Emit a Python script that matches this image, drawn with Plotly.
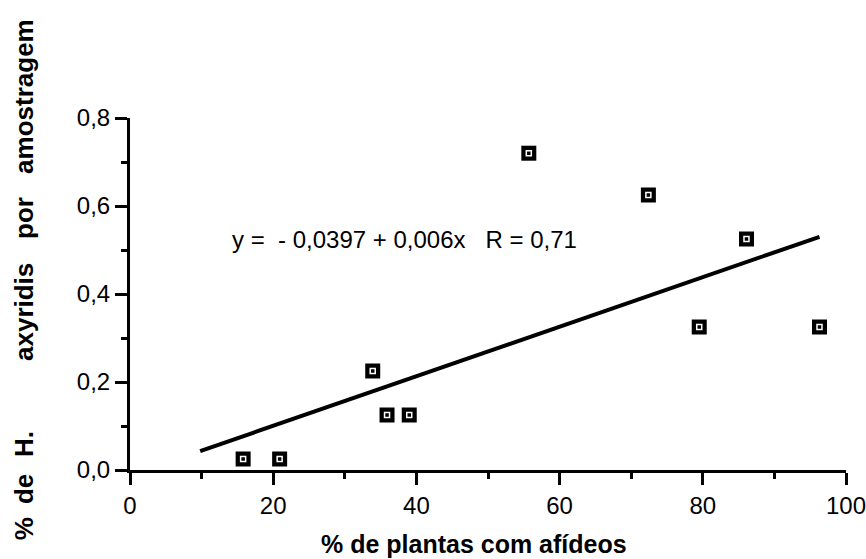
import plotly.graph_objects as go

# Data
x_pts = [15.8, 20.9, 33.9, 35.9, 39.0, 55.7, 72.4, 79.5, 86.1, 96.3]
y_pts = [0.025, 0.025, 0.225, 0.125, 0.125, 0.72, 0.625, 0.325, 0.525, 0.325]

x_fit = [9.8, 96.3]
y_fit = [0.043, 0.530]

x_ticks = [0, 20, 40, 60, 80, 100]
x_ticktext = ["0", "20", "40", "60", "80", "100"]
y_ticks = [0.0, 0.2, 0.4, 0.6, 0.8]
y_ticktext = ["0,0", "0,2", "0,4", "0,6", "0,8"]

equation = "y =\u00a0\u00a0- 0,0397 + 0,006x\u00a0\u00a0\u00a0R = 0,71"
x_title = "% de plantas com afídeos"
y_title_words = ["%", "de", "H.", "axyridis", "por", "amostragem"]
y_title_pos = [-0.168, -0.054, 0.074, 0.449, 0.716, 1.060]

FONT = "Liberation Sans, Arial, sans-serif"

fig = go.Figure()
fig.add_trace(go.Scatter(x=x_fit, y=y_fit, mode="lines",
                         line=dict(color="black", width=4), showlegend=False,
                         hoverinfo="skip"))
fig.add_trace(go.Scatter(x=x_pts, y=y_pts, mode="markers",
                         marker=dict(symbol="square", size=15, color="black",
                                     line=dict(width=0)),
                         showlegend=False, cliponaxis=False))
fig.add_trace(go.Scatter(x=x_pts, y=y_pts, mode="markers",
                         marker=dict(symbol="square-open", size=5, color="white",
                                     line=dict(width=1.5, color="white")),
                         showlegend=False, cliponaxis=False, hoverinfo="skip"))

annotations = [
    dict(text=equation, x=14.0, y=0.523, xref="x", yref="y",
         xanchor="left", yanchor="middle", showarrow=False,
         font=dict(family=FONT, size=24, color="black")),
    dict(text="<b>" + x_title + "</b>", x=0.480, y=-0.21, xref="paper", yref="paper",
         xanchor="center", yanchor="middle", showarrow=False,
         font=dict(family=FONT, size=25, color="black")),
]
for w, p in zip(y_title_words, y_title_pos):
    annotations.append(dict(text="<b>" + w + "</b>", x=-0.148, y=p,
                            xref="paper", yref="paper", xanchor="center",
                            yanchor="middle", textangle=-90, showarrow=False,
                            font=dict(family=FONT, size=26, color="black")))

axis_common = dict(showgrid=False, zeroline=False, showline=True,
                   linecolor="black", linewidth=3, ticks="outside",
                   ticklen=12, tickwidth=3, tickcolor="black",
                   automargin=False, ticklabeloverflow="allow",
                   tickfont=dict(family=FONT, size=24, color="black"))

fig.update_layout(
    width=866, height=559,
    margin=dict(l=130, r=20, t=118, b=89, autoexpand=False),
    paper_bgcolor="white", plot_bgcolor="white",
    font=dict(family=FONT, size=24, color="black"),
    xaxis=dict(range=[0, 100], tickvals=x_ticks, ticktext=x_ticktext,
               minor=dict(ticks="outside", dtick=10, ticklen=6, tickwidth=3,
                          tickcolor="black", showgrid=False),
               **axis_common),
    yaxis=dict(range=[0, 0.8], tickvals=y_ticks, ticktext=y_ticktext,
               minor=dict(ticks="outside", dtick=0.1, ticklen=6, tickwidth=3,
                          tickcolor="black", showgrid=False),
               **axis_common),
    annotations=annotations,
)

fig.write_html(
    "out.html",
    config={"displayModeBar": False},
    post_script="document.body.style.margin='0px';document.body.style.overflow='hidden';",
)
